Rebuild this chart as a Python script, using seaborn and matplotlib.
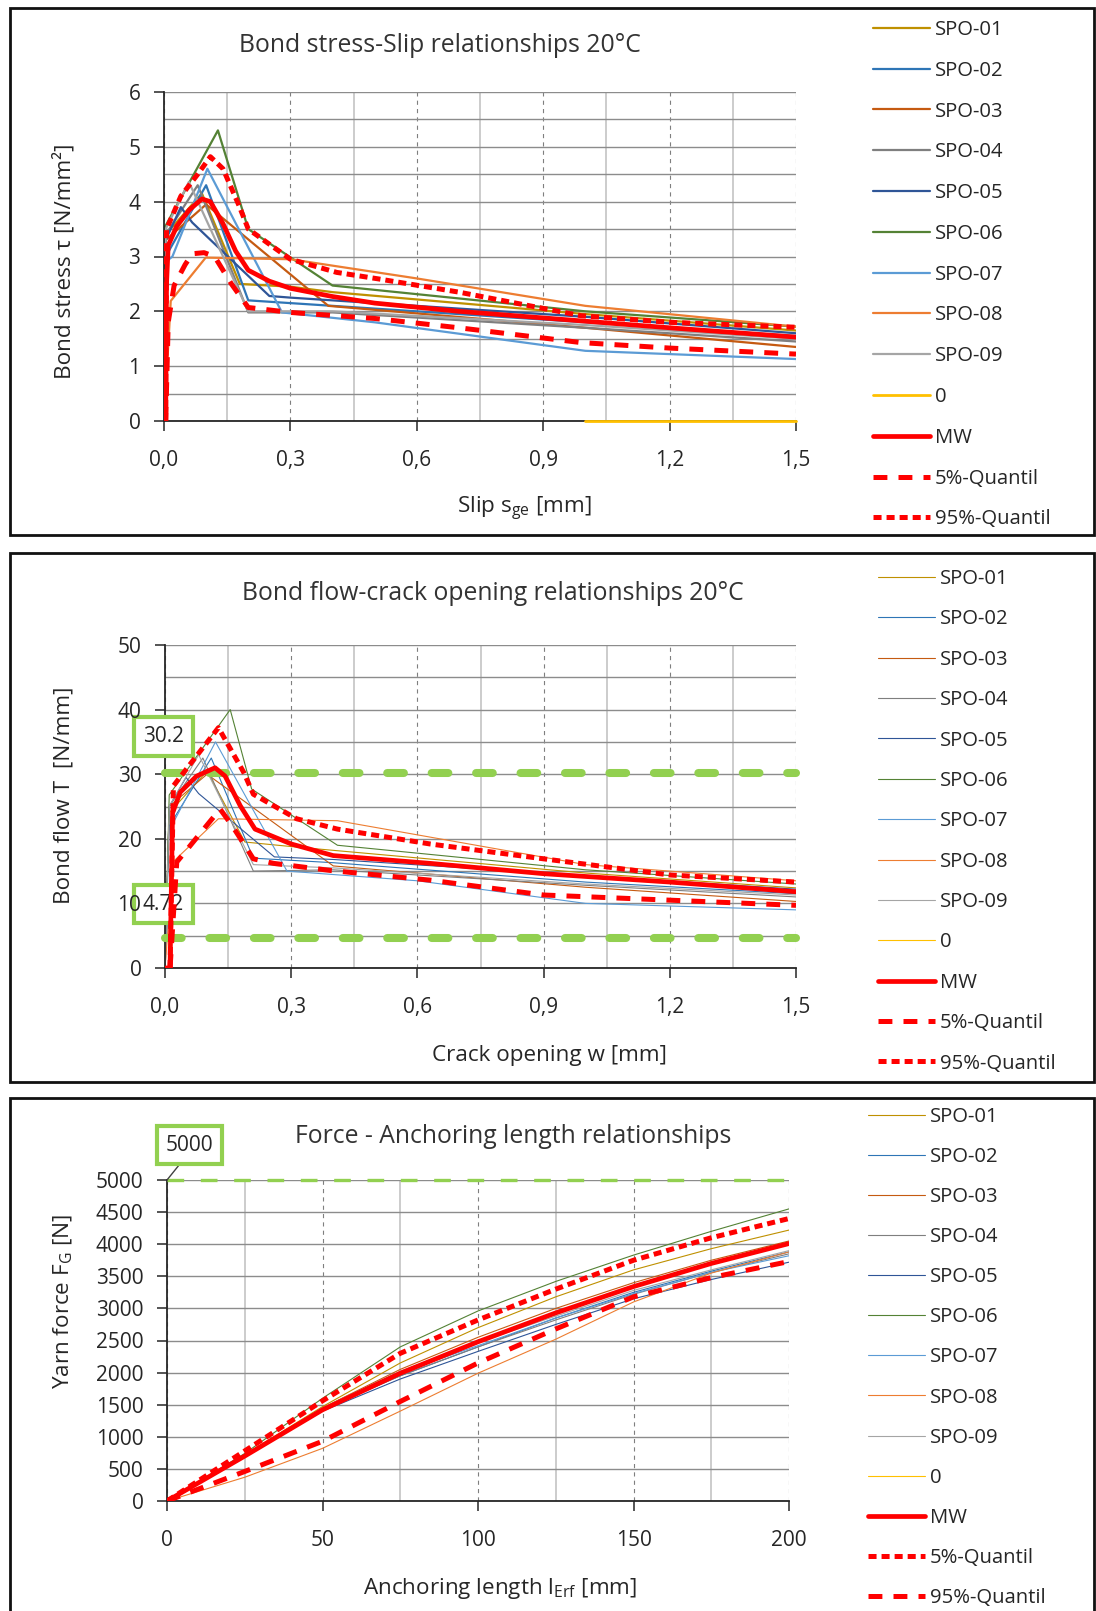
import numpy as np
import pandas as pd
import matplotlib
matplotlib.use("Agg")
import matplotlib.pyplot as plt
import seaborn as sns
from matplotlib.patches import Rectangle
from matplotlib.lines import Line2D
from matplotlib.ticker import MultipleLocator, FixedLocator

# ---------------- data ----------------
names = ["SPO-01", "SPO-02", "SPO-03", "SPO-04", "SPO-05", "SPO-06", "SPO-07", "SPO-08", "SPO-09"]
colors = ["#BF9000", "#2E75B6", "#C55A11", "#7F7F7F", "#2F5597", "#548235", "#5B9BD5", "#ED7D31", "#A5A5A5"]
zero_color = "#FFC000"
red = "#FF0000"
limit_green = "#92D050"

# Panel 1: bond stress - slip
p1_x = [
    [0, 0.004, 0.09, 0.18, 0.3, 0.4, 1.0, 1.5],
    [0, 0.004, 0.1, 0.2, 0.4, 1.0, 1.5],
    [0, 0.004, 0.1, 0.39, 1.0, 1.5],
    [0, 0.004, 0.08, 0.2, 0.4, 1.0, 1.5],
    [0, 0.004, 0.04, 0.067, 0.25, 0.3, 1.0, 1.5],
    [0, 0.003, 0.128, 0.2, 0.4, 1.0, 1.5],
    [0, 0.004, 0.02, 0.103, 0.28, 0.5, 1.0, 1.5],
    [0, 0.016, 0.099, 0.3, 0.6, 1.0, 1.5],
    [0, 0.004, 0.059, 0.2, 0.4, 1.0, 1.5],
]
p1_y = [
    [0, 3.4, 4.15, 2.5, 2.45, 2.35, 1.95, 1.65],
    [0, 3.0, 4.3, 2.2, 2.1, 1.8, 1.55],
    [0, 3.3, 3.95, 2.1, 1.7, 1.35],
    [0, 3.4, 4.3, 1.98, 1.98, 1.7, 1.45],
    [0, 3.3, 3.9, 3.62, 2.28, 2.25, 1.9, 1.6],
    [0, 3.55, 5.3, 3.5, 2.47, 2.0, 1.72],
    [0, 2.9, 3.0, 4.6, 1.98, 1.8, 1.28, 1.13],
    [0, 2.19, 2.98, 2.95, 2.6, 2.1, 1.72],
    [0, 3.5, 4.36, 2.0, 2.0, 1.75, 1.5],
]
p1_zero_x = [1.0, 1.5]
p1_zero_y = [0, 0]
p1_mw_x = [0, 0.004, 0.006, 0.01, 0.03, 0.06, 0.09, 0.11, 0.14, 0.17, 0.2, 0.25, 0.3, 0.4, 0.5, 0.7, 1.0, 1.2, 1.5]
p1_mw_y = [0, 0, 2.5, 3.2, 3.55, 3.85, 4.05, 4.0, 3.6, 3.1, 2.75, 2.55, 2.42, 2.27, 2.15, 2.0, 1.82, 1.7, 1.53]
p1_q95_x = [0.004, 0.006, 0.04, 0.08, 0.11, 0.14, 0.178, 0.2, 0.3, 0.41, 0.51, 0.7, 0.99, 1.2, 1.5]
p1_q95_y = [0, 3.5, 4.1, 4.5, 4.82, 4.6, 3.93, 3.5, 2.95, 2.71, 2.59, 2.35, 1.92, 1.8, 1.71]
p1_q05_x = [0.004, 0.01, 0.024, 0.05, 0.067, 0.095, 0.12, 0.16, 0.2, 0.3, 0.5, 0.7, 0.99, 1.2, 1.5]
p1_q05_y = [0, 1.8, 2.47, 2.85, 3.05, 3.07, 3.0, 2.5, 2.07, 1.98, 1.87, 1.7, 1.43, 1.33, 1.22]
p1_xticks = [0.0, 0.3, 0.6, 0.9, 1.2, 1.5]
p1_xticklabels = ["0,0", "0,3", "0,6", "0,9", "1,2", "1,5"]
p1_yticks = [0, 1, 2, 3, 4, 5, 6]

# Panel 2: bond flow - crack opening
p2_x = [
    [0, 0.01, 0.1, 0.19, 0.3, 1.0, 1.5],
    [0, 0.01, 0.11, 0.21, 0.4, 1.0, 1.5],
    [0, 0.01, 0.1, 0.4, 1.0, 1.5],
    [0, 0.01, 0.09, 0.21, 0.4, 1.0, 1.5],
    [0, 0.01, 0.05, 0.08, 0.26, 0.4, 1.0, 1.5],
    [0, 0.01, 0.155, 0.206, 0.41, 1.0, 1.5],
    [0, 0.02, 0.12, 0.29, 0.6, 1.0, 1.5],
    [0, 0.02, 0.127, 0.41, 1.0, 1.5],
    [0, 0.01, 0.08, 0.21, 0.4, 1.0, 1.5],
]
p2_y = [
    [0, 24, 30.5, 19.5, 18.8, 14.7, 12.4],
    [0, 22, 32.5, 17, 16.3, 13.3, 11.5],
    [0, 25, 30, 15.8, 12.5, 10.3],
    [0, 25, 32.5, 15, 15.2, 12.8, 11.0],
    [0, 25, 29.5, 27, 17.2, 16.8, 14.3, 12.2],
    [0, 26.8, 40, 27.7, 19, 15.2, 13.0],
    [0, 22.5, 35, 15, 13.5, 10, 9.0],
    [0, 16.5, 23.1, 22.8, 16.0, 13.5],
    [0, 25, 33, 16, 15.5, 13, 11.3],
]
p2_mw_x = [0, 0.012, 0.018, 0.036, 0.075, 0.119, 0.143, 0.179, 0.214, 0.3, 0.4, 0.63, 0.9, 1.2, 1.5]
p2_mw_y = [0, 0, 24.0, 27.2, 29.7, 31.0, 29.7, 25.1, 21.5, 19.2, 17.4, 16.2, 14.6, 13.3, 11.8]
p2_q95_x = [0.012, 0.02, 0.127, 0.187, 0.21, 0.313, 0.41, 0.63, 0.9, 1.2, 1.5]
p2_q95_y = [0, 28.2, 37.2, 30.3, 26.9, 23.1, 21.5, 19.2, 16.9, 14.4, 13.3]
p2_q05_x = [0.012, 0.028, 0.131, 0.16, 0.21, 0.258, 0.393, 0.63, 0.9, 1.2, 1.5]
p2_q05_y = [0, 16.4, 24.6, 22.0, 16.9, 16.2, 15.1, 13.6, 11.3, 10.5, 9.7]
p2_limits = [30.2, 4.72]
p2_limit_labels = ["30.2", "4.72"]
p2_limit_label_y = [35.8, 9.9]
p2_yticks = [0, 10, 20, 30, 40, 50]

# Panel 3: force - anchoring length
p3_len = [0, 25, 50, 75, 100, 125, 150, 175, 200]
p3_y = [
    [0, 720, 1470, 2150, 2700, 3180, 3600, 3930, 4220],
    [0, 700, 1430, 1950, 2400, 2850, 3250, 3580, 3880],
    [0, 720, 1450, 2050, 2550, 3000, 3400, 3750, 4050],
    [0, 700, 1420, 1950, 2400, 2820, 3220, 3560, 3850],
    [0, 690, 1400, 1900, 2330, 2750, 3150, 3450, 3720],
    [0, 740, 1600, 2400, 2960, 3420, 3830, 4200, 4550],
    [0, 700, 1440, 2000, 2420, 2850, 3230, 3560, 3820],
    [0, 370, 820, 1400, 1990, 2520, 3100, 3550, 3880],
    [0, 710, 1450, 2020, 2470, 2880, 3280, 3600, 3900],
]
p3_mw = [0, 700, 1420, 1990, 2480, 2930, 3340, 3700, 4010]
p3_q05 = [0, 780, 1560, 2300, 2820, 3300, 3750, 4100, 4400]
p3_q95 = [0, 460, 930, 1550, 2150, 2680, 3180, 3480, 3730]
p3_limit = 5000
p3_xticks = [0, 50, 100, 150, 200]
p3_yticks = list(range(0, 5001, 500))

# ---------------- style ----------------
sns.set_style("white")
plt.rcParams["font.family"] = ["Open Sans", "DejaVu Sans"]
plt.rcParams["mathtext.fontset"] = "custom"
plt.rcParams["mathtext.rm"] = "Open Sans"
plt.rcParams["lines.scale_dashes"] = False
TXT = "#262626"
plt.rcParams["text.color"] = TXT

FS_TICK = 15
FS_LEG = 14.6
FS_BOX = 15
FS_LAB = 16.2
FS_TITLE = 17.8

W, H = 1096, 1611
fig = plt.figure(figsize=(W / 100, H / 100), dpi=100)


def px_axes(l, t, r, b):
    return fig.add_axes([l / W, 1 - b / H, (r - l) / W, (b - t) / H])


def frame(l, t, r, b):
    fig.add_artist(Rectangle((l / W, 1 - b / H), (r - l) / W, (b - t) / H,
                             transform=fig.transFigure, fill=False,
                             ec="#111111", lw=2.0, zorder=0))


def style_axes(ax, xminor, yminor):
    ax.set_axisbelow(True)
    for s in ["top", "right"]:
        ax.spines[s].set_visible(False)
    for s in ["left", "bottom"]:
        ax.spines[s].set_color("#262626")
        ax.spines[s].set_linewidth(1.3)
        ax.spines[s].set_zorder(2.1)
    ax.xaxis.set_minor_locator(MultipleLocator(xminor))
    if yminor is not None:
        ax.yaxis.set_minor_locator(MultipleLocator(yminor))
    ax.yaxis.grid(True, which="both", color="#8C8C8C", lw=1.0, ls="-")
    ax.xaxis.grid(True, which="major", color="#7F7F7F", lw=0.8, ls=(0, (3, 3)))
    ax.xaxis.grid(True, which="minor", color="#C8C8C8", lw=1.3, ls="-")
    ax.tick_params(which="major", bottom=True, left=True, direction="out",
                   length=7, width=1.1, color="#262626", labelsize=FS_TICK,
                   labelcolor=TXT)
    ax.tick_params(which="minor", length=0)
    ax.tick_params(axis="x", pad=14)
    ax.tick_params(axis="y", pad=10)


def q_style(kind):
    return (0, (5.8, 3.6)) if kind == "short" else (0, (10, 8))


def legend(ax, h, l, x, y, spacing):
    ax.legend(h, l, loc="upper left", bbox_to_anchor=(x / W, 1 - y / H),
              bbox_transform=fig.transFigure, frameon=False, fontsize=FS_LEG,
              handlelength=2.8, handletextpad=0.25, labelspacing=spacing,
              borderpad=0, borderaxespad=0)


frame(10, 8, 1094, 535)
frame(10, 553, 1094, 1082)
frame(10, 1098, 1094, 1640)

# ---------------- panel 1 ----------------
ax1 = px_axes(164, 92, 796, 421)
for nm, c, xs, ys in zip(names, colors, p1_x, p1_y):
    sns.lineplot(x=xs, y=ys, ax=ax1, color=c, linewidth=1.6, label=nm,
                 sort=False, estimator=None)
sns.lineplot(x=p1_zero_x, y=p1_zero_y, ax=ax1, color=zero_color, linewidth=2.0,
             label="0", sort=False, estimator=None, zorder=3, clip_on=False)
sns.lineplot(x=p1_mw_x, y=p1_mw_y, ax=ax1, color=red, linewidth=3.4, label="MW",
             sort=False, estimator=None, zorder=4)
sns.lineplot(x=p1_q05_x, y=p1_q05_y, ax=ax1, color=red, linewidth=3.6,
             linestyle=q_style("long"), label="5%-Quantil", sort=False,
             estimator=None, zorder=4)
sns.lineplot(x=p1_q95_x, y=p1_q95_y, ax=ax1, color=red, linewidth=3.6,
             linestyle=q_style("short"), label="95%-Quantil", sort=False,
             estimator=None, zorder=4)
ax1.set_xlim(0, 1.5)
ax1.set_ylim(0, 6)
style_axes(ax1, 0.15, 0.5)
ax1.xaxis.set_major_locator(FixedLocator(p1_xticks))
ax1.set_xticklabels(p1_xticklabels)
ax1.yaxis.set_major_locator(FixedLocator(p1_yticks))
ax1.set_xlabel("Slip s$_\\mathregular{ge}$ [mm]", fontsize=FS_LAB, color=TXT, va="center")
ax1.xaxis.set_label_coords(0.57, -0.267)
ax1.set_ylabel("Bond stress τ [N/mm²]", fontsize=FS_LAB, color=TXT, va="center")
ax1.yaxis.set_label_coords(-0.158, 0.486)
ax1.text(0.437, 1.14, "Bond stress-Slip relationships 20°C", transform=ax1.transAxes,
         ha="center", va="center", fontsize=FS_TITLE, color="#333333")
h, l = ax1.get_legend_handles_labels()
legend(ax1, h, l, 873, 20, 1.025)

# ---------------- panel 2 ----------------
ax2 = px_axes(165, 645, 796, 968)
for nm, c, xs, ys in zip(names, colors, p2_x, p2_y):
    sns.lineplot(x=xs, y=ys, ax=ax2, color=c, linewidth=0.8, label=nm,
                 sort=False, estimator=None)
sns.lineplot(x=p2_mw_x, y=p2_mw_y, ax=ax2, color=red, linewidth=3.4, label="MW",
             sort=False, estimator=None, zorder=4)
sns.lineplot(x=p2_q05_x, y=p2_q05_y, ax=ax2, color=red, linewidth=3.6,
             linestyle=q_style("long"), label="5%-Quantil", sort=False,
             estimator=None, zorder=4)
sns.lineplot(x=p2_q95_x, y=p2_q95_y, ax=ax2, color=red, linewidth=3.6,
             linestyle=q_style("short"), label="95%-Quantil", sort=False,
             estimator=None, zorder=4)
for lv in p2_limits:
    sns.lineplot(x=[0, 1.5], y=[lv, lv], ax=ax2, color=limit_green, linewidth=5.8,
                 linestyle=(0, (12, 20)), solid_capstyle="round",
                 dash_capstyle="round", label="_nolegend_", sort=False,
                 estimator=None, zorder=3, clip_on=False)
for txt, ty in zip(p2_limit_labels, p2_limit_label_y):
    ax2.text(-0.004, ty, txt, ha="center", va="center", fontsize=FS_BOX, color=TXT,
             zorder=2.3, clip_on=False,
             bbox=dict(boxstyle="square,pad=0.42", fc="white", ec=limit_green, lw=3))
ax2.set_xlim(0, 1.5)
ax2.set_ylim(0, 50)
style_axes(ax2, 0.15, 5)
ax2.xaxis.set_major_locator(FixedLocator(p1_xticks))
ax2.set_xticklabels(p1_xticklabels)
ax2.yaxis.set_major_locator(FixedLocator(p2_yticks))
ax2.tick_params(axis="y", labelleft=False)
ax2.set_xlabel("Crack opening w [mm]", fontsize=FS_LAB, color=TXT, va="center")
ax2.xaxis.set_label_coords(0.61, -0.272)
ax2.set_ylabel("Bond flow T  [N/mm]", fontsize=FS_LAB, color=TXT, va="center")
ax2.yaxis.set_label_coords(-0.16, 0.536)
ax2.text(0.52, 1.158, "Bond flow-crack opening relationships 20°C", transform=ax2.transAxes,
         ha="center", va="center", fontsize=FS_TITLE, color="#333333")
h, l = ax2.get_legend_handles_labels()
h = h[:9] + [Line2D([], [], color=zero_color, lw=0.8)] + h[9:]
l = l[:9] + ["0"] + l[9:]
legend(ax2, h, l, 878, 569, 1.005)

# overlay axes carrying the y tick labels of panel 2 (drawn above the value boxes)
ax2t = fig.add_axes(ax2.get_position(), sharey=ax2, zorder=ax2.get_zorder() + 1)
ax2t.patch.set_visible(False)
for s in ax2t.spines.values():
    s.set_visible(False)
ax2t.set_xticks([])
ax2t.yaxis.set_major_locator(FixedLocator(p2_yticks))
ax2t.tick_params(axis="y", left=True, length=0, labelsize=FS_TICK,
                 labelcolor=TXT, pad=17)

# ---------------- panel 3 ----------------
ax3 = px_axes(167, 1180, 789, 1501)
for nm, c, ys in zip(names, colors, p3_y):
    sns.lineplot(x=p3_len, y=ys, ax=ax3, color=c, linewidth=0.8, label=nm,
                 sort=False, estimator=None)
sns.lineplot(x=p3_len, y=p3_mw, ax=ax3, color=red, linewidth=3.4, label="MW",
             sort=False, estimator=None, zorder=4)
sns.lineplot(x=p3_len, y=p3_q05, ax=ax3, color=red, linewidth=3.6,
             linestyle=q_style("short"), label="5%-Quantil", sort=False,
             estimator=None, zorder=4)
sns.lineplot(x=p3_len, y=p3_q95, ax=ax3, color=red, linewidth=3.6,
             linestyle=q_style("long"), label="95%-Quantil", sort=False,
             estimator=None, zorder=4)
sns.lineplot(x=[0, 200], y=[p3_limit, p3_limit], ax=ax3, color=limit_green,
             linewidth=2.4, linestyle=(0, (12, 12)), label="_nolegend_",
             sort=False, estimator=None, zorder=3, clip_on=False)
ax3.annotate(str(p3_limit), xy=(0, p3_limit), xytext=(7.1, 5545),
             ha="center", va="center", fontsize=FS_BOX, color=TXT,
             annotation_clip=False,
             bbox=dict(boxstyle="square,pad=0.42", fc="white", ec=limit_green, lw=3),
             arrowprops=dict(arrowstyle="-", color="#404040", lw=1.0,
                             relpos=(0.45, 0.0), shrinkA=0, shrinkB=0))
ax3.set_xlim(0, 200)
ax3.set_ylim(0, 5000)
style_axes(ax3, 25, None)
ax3.xaxis.set_major_locator(FixedLocator(p3_xticks))
ax3.yaxis.set_major_locator(FixedLocator(p3_yticks))
ax3.set_xlabel("Anchoring length l$_\\mathregular{Erf}$ [mm]", fontsize=FS_LAB, color=TXT, va="center")
ax3.xaxis.set_label_coords(0.535, -0.274)
ax3.set_ylabel("Yarn force F$_\\mathregular{G}$ [N]", fontsize=FS_LAB, color=TXT, va="center")
ax3.yaxis.set_label_coords(-0.166, 0.62)
ax3.text(0.556, 1.137, "Force - Anchoring length relationships", transform=ax3.transAxes,
         ha="center", va="center", fontsize=FS_TITLE, color="#333333")
h, l = ax3.get_legend_handles_labels()
h = h[:9] + [Line2D([], [], color=zero_color, lw=0.8)] + h[9:]
l = l[:9] + ["0"] + l[9:]
legend(ax3, h, l, 868, 1107, 0.99)

fig.savefig("out.png", dpi=100)
